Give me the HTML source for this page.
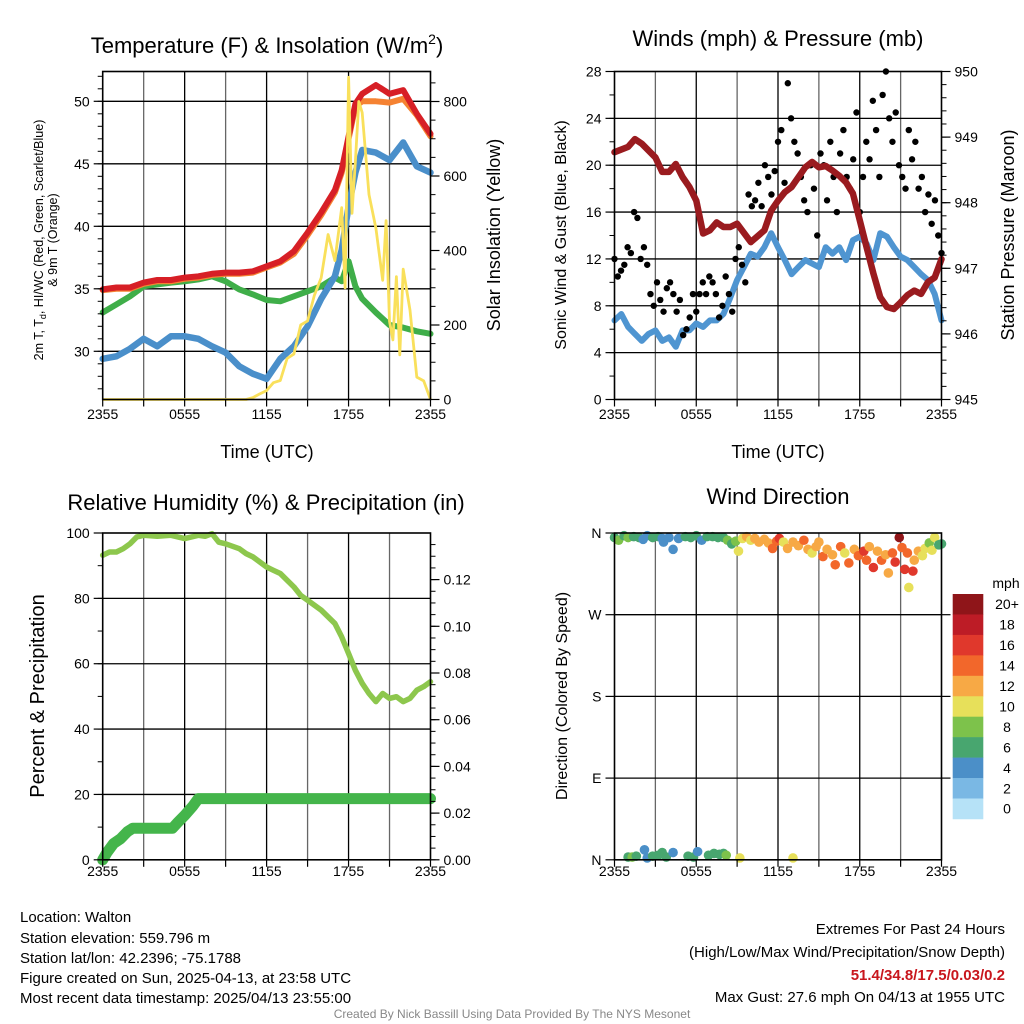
<!DOCTYPE html>
<html><head><meta charset="utf-8"><style>
html,body{margin:0;padding:0;background:#fff;}
svg{display:block;font-family:"Liberation Sans",Arial,sans-serif;}
</style></head><body>
<svg id="svg" width="1024" height="1024" viewBox="0 0 1024 1024" xmlns="http://www.w3.org/2000/svg">
<rect width="1024" height="1024" fill="#fff"/>
<text x="267" y="53" font-size="22" text-anchor="middle">Temperature (F) &amp; Insolation (W/m<tspan font-size="14" dy="-9">2</tspan><tspan dy="9">)</tspan></text>
<text x="778" y="46" font-size="22" text-anchor="middle">Winds (mph) &amp; Pressure (mb)</text>
<text x="266" y="510" font-size="22" text-anchor="middle">Relative Humidity (%) &amp; Precipitation (in)</text>
<text x="778" y="504" font-size="22" text-anchor="middle">Wind Direction</text>

<text x="267" y="458" font-size="18" text-anchor="middle">Time (UTC)</text>
<text x="778" y="458" font-size="18" text-anchor="middle">Time (UTC)</text>

<g font-size="12.5" text-anchor="middle">
<text transform="translate(43,240) rotate(-90)">2m T, T<tspan font-size="9" dy="3">d</tspan><tspan dy="-3">, HI/WC (Red, Green, Scarlet/Blue)</tspan></text>
<text transform="translate(57,240) rotate(-90)">&amp; 9m T (Orange)</text>
</g>
<text transform="translate(500,235) rotate(-90)" font-size="18" text-anchor="middle">Solar Insolation (Yellow)</text>
<text transform="translate(566,235) rotate(-90)" font-size="16" text-anchor="middle">Sonic Wind &amp; Gust (Blue, Black)</text>
<text transform="translate(1014,235) rotate(-90)" font-size="18" text-anchor="middle">Station Pressure (Maroon)</text>
<text transform="translate(44,696) rotate(-90)" font-size="20" text-anchor="middle">Percent &amp; Precipitation</text>
<text transform="translate(567,696) rotate(-90)" font-size="16" text-anchor="middle">Direction (Colored By Speed)</text>

<g id="layer"></g>

<g font-size="15">
<text x="20" y="922">Location: Walton</text>
<text x="20" y="943">Station elevation: 559.796 m</text>
<text x="20" y="963">Station lat/lon: 42.2396; -75.1788</text>
<text x="20" y="983">Figure created on Sun, 2025-04-13, at 23:58 UTC</text>
<text x="20" y="1003">Most recent data timestamp: 2025/04/13 23:55:00</text>
</g>
<g font-size="15" text-anchor="end">
<text x="1005" y="934">Extremes For Past 24 Hours</text>
<text x="1005" y="957">(High/Low/Max Wind/Precipitation/Snow Depth)</text>
<text x="1005" y="980" fill="#c8161d" font-weight="bold">51.4/34.8/17.5/0.03/0.2</text>
<text x="1005" y="1002">Max Gust: 27.6 mph On 04/13 at 1955 UTC</text>
</g>
<text x="512" y="1018" font-size="12" fill="#888" text-anchor="middle">Created By Nick Bassill Using Data Provided By The NYS Mesonet</text>
</svg>
<script>
// ---- Data ----
const xTickLabels = ["2355","0555","1155","1755","2355"];
const tempHours = [0,1,2,3,4,5,6,7,8,9,10,11,12,13,14,15,16,17,17.5,18,18.5,19,20,21,22,23,24];
const tempRed = [34.95,35.1,35.1,35.5,35.7,35.7,35.9,36.0,36.2,36.3,36.3,36.4,36.8,37.2,38.0,39.5,41.1,42.9,44.5,47.2,49.8,50.6,51.3,50.6,50.9,49.0,47.4];
const temp9m = [34.9,35.0,35.0,35.4,35.6,35.6,35.8,35.9,36.1,36.2,36.2,36.3,36.7,37.1,37.8,39.3,40.9,42.7,44.3,47.0,49.6,50.0,50.0,49.9,50.2,48.9,47.2];
const dewGreen = [33.1,33.75,34.4,35.2,35.35,35.5,35.6,35.75,36.0,35.6,34.95,34.55,34.1,34.0,34.4,34.8,35.2,35.9,35.6,37.2,35.2,34.2,33.1,32.1,31.9,31.6,31.4];
const hiwcBlue = [29.4,29.6,30.2,31.0,30.4,31.2,31.2,31.0,30.4,29.9,28.8,28.2,27.8,29.4,30.4,32.0,34.2,36.0,38.1,41.6,44.3,46.1,45.9,45.3,46.7,44.8,44.3];
const solarHours = [0,10.5,11,11.5,12,12.5,13,13.5,14,14.5,15,15.5,16,16.5,17,17.5,17.75,18,18.25,18.5,18.75,19,19.5,20,20.5,20.75,21,21.25,21.5,21.75,22,22.5,23,23.5,24];
const solarVals = [0,0,5,15,24,45,51,110,122,200,211,280,327,443,373,515,300,865,500,640,800,770,550,460,320,480,210,160,330,120,350,240,60,50,0];

const windHours = [0,0.5,1,1.5,2,2.5,3,3.5,4,4.5,5,5.5,6,6.5,7,7.5,8,8.5,9,9.5,10,10.5,11,11.5,12,12.5,13,13.5,14,14.5,15,15.5,16,16.5,17,17.5,18,18.5,19,19.5,20,20.5,21,21.5,22,22.5,23,23.5,24];
const windSpeed = [6.75,7.3,6.2,5.6,5.0,5.6,5.9,5.0,5.3,4.5,5.9,5.9,6.5,6.2,6.75,6.75,7.3,8.7,10.2,11.3,12.45,12.2,13.0,14.2,13.0,11.9,10.7,11.3,11.9,11.6,11.3,13.0,12.45,13.0,11.9,13.6,13.9,13.3,11.9,14.2,13.9,13.0,12.2,11.9,11.3,10.7,10.2,9.0,6.75];
const gustVals = [12,10.5,11,11.5, 13,12.5,16,15.5, 12,13,11.5,9, 8,10,8.5,7.5, 9.5,10,9,7.5, 8.5,5.5,6,7, 9,7.5,9,10, 9,10.5,10,9, 7,8,10.5,9, 7.5,12,13,11.5, 10,17.5,16.5,17, 18.5,16.5,20,19, 17.5,19.5,22,23, 18.5,27,24,22, 21,19,17,16, 20,18,14,21, 20,17,22,19, 16,21,23,19, 18,20.5,24.5,16, 19,22,20.5,25.5, 23,19,26,28, 24,22,24.5,20, 19,18,23,20.5, 22,18,19,16, 17.5,15,17,14, 12.5];
const pressHours = [0,1,1.5,2,3,3.5,4,4.5,5,5.5,6,6.5,7,7.5,8,8.5,9,10,11,11.5,12,12.5,13,14,14.5,15,15.5,16,16.5,17,17.5,18,18.5,19,19.5,20,20.5,21,21.5,22,22.5,23,23.5,24];
const pressVals = [948.77,948.85,948.97,948.9,948.69,948.47,948.47,948.59,948.39,948.24,948.03,947.53,947.58,947.70,947.63,947.63,947.68,947.40,947.58,947.88,948.03,948.16,948.24,948.54,948.62,948.54,948.56,948.49,948.41,948.31,948.14,947.73,947.32,946.92,946.56,946.41,946.38,946.48,946.59,946.66,946.61,946.79,946.86,947.14];

const rhHours = [0,0.5,1,1.5,2,2.5,3,4,5,6,7,7.5,8,8.5,9,10,10.5,11,12,12.5,13,14,14.5,15,16,17,17.5,18,18.5,19,19.5,20,20.5,21,21.5,22,22.5,23,23.5,24];
const rhVals = [93.2,94.2,94.2,95.2,96.7,98.8,99.3,99.0,99.3,98.3,99.3,99.0,99.8,97.2,96.7,95.2,93.7,92.7,89.6,88.6,87.6,83.5,80.9,79.4,76.4,72.3,68.2,63.1,58.0,54.0,50.9,48.4,50.9,49.4,49.9,48.4,49.4,51.9,53.0,54.5];
const precipHours = [0,0.3,0.8,1.3,1.8,2.2,5.1,5.5,6,6.6,7,24];
const precipVals = [0,0.003,0.007,0.009,0.012,0.0135,0.0135,0.016,0.019,0.023,0.0262,0.0262];

const dirHours = [0,0.3,0.7,1.0,1.4,1.8,2.1,2.4,2.8,3.2,3.5,3.6,4.0,4.3,4.7,5.2,5.6,6.0,6.4,6.8,7.2,7.6,8.0,8.3,8.6,8.9,9.1,9.4,9.7,10.0,10.3,10.6,11.0,11.3,11.6,11.9,12.1,12.4,12.7,13.1,13.5,13.9,14.2,14.5,14.8,15.0,15.3,15.6,16.0,16.2,16.6,16.9,17.2,17.6,17.9,18.3,18.5,18.7,19.0,19.3,19.6,19.9,20.1,20.4,20.6,20.9,21.1,21.3,21.5,21.6,21.9,22.0,22.3,22.6,22.8,23.1,23.3,23.5,23.8,24.0,
 1.0,1.3,1.6,2.2,2.4,2.8,3.2,3.5,3.8,4.3,5.4,5.8,6.1,6.9,7.3,7.7,8.0,8.2,9.2,13.1];
const dirVals = [355,352,357,355,356,355,353,357,355,356,354,350,355,342,354,356,355,357,352,356,356,355,355,352,348,351,340,354,356,352,354,350,353,349,343,351,354,350,343,350,346,352,342,338,345,350,334,342,336,325,345,338,327,342,335,340,330,345,322,340,330,336,316,338,328,355,344,320,338,300,318,330,340,335,343,349,341,355,347,348,
 3,3,4,11,2,4,5,8,3,8,4,3,9,5,7,6,7,5,2,2];
const dirSpeeds = [7,8,7,8,6,7,5,5,6,6,5,4,5,4,4,6,7,6,4,6,6,6,7,8,7,8,10,11,12,10,12,12,12,13,14,15,17,10,12,13,12,15,12,10,12,13,14,12,13,14,14,11,14,13,14,16,15,12,16,12,15,12,13,14,16,20,15,16,14,11,16,13,12,10,10,9,10,10,7,6,
 7,8,6,4,4,6,6,6,6,4,6,6,4,6,6,6,6,8,10,10];
const speedBins = ["0","2","4","6","8","10","12","14","16","18","20+"];
const speedColors = ["#b6e2f7","#7ab8e4","#4b8fc8","#48a66f","#7dc24b","#e7e05a","#f7a945","#f2672b","#e0382c","#bd1c26","#8f1519"];

// ---- Helpers ----
const NS="http://www.w3.org/2000/svg";
const layer=document.getElementById('layer');
function mk(tag,attrs,parent){const e=document.createElementNS(NS,tag);for(const k in attrs)e.setAttribute(k,attrs[k]);(parent||layer).appendChild(e);return e;}
function poly(xs,ys,fx,fy){return xs.map((h,i)=>fx(h).toFixed(1)+','+fy(ys[i]).toFixed(1)).join(' ');}

const P1={l:102.7,r:430.5,t:71.5,b:399.5};
const P2={l:614.5,r:941.5,t:71.5,b:399.5};
const P3={l:102.7,r:430.5,t:533,b:859.8};
const P4={l:614.5,r:941.5,t:533,b:859.8};
const xs1=h=>P1.l+h*(P1.r-P1.l)/24;
const xs2=h=>P2.l+h*(P2.r-P2.l)/24;
const yT=t=>101.3+(50-t)*12.5;
const yI=v=>399.5-v*74.5/200;
const yW=w=>399.5-w*(399.5-71.5)/28;
const yP=p=>399.5-(p-945)*(399.5-71.5)/5;
const yRH=r=>859.8-r*(859.8-533)/100;
const yPr=p=>859.8-p/0.02*46.7;
const yD=d=>859.8-d/360*(859.8-533);

function grid(P,fx,hy,name){
  const g=mk('g',{});
  
  
  for(let h=3;h<24;h+=3){const x=fx(h);mk('line',{x1:x,x2:x,y1:P.t,y2:P.b,stroke:(h%6==0)?'#000':'#666','stroke-width':1.3},g);}
  hy.forEach(y=>mk('line',{x1:P.l,x2:P.r,y1:y,y2:y,stroke:'#000','stroke-width':1.3},g));
}
function frame(P,fx,ylab,name){
  const g=mk('g',{});
  
  
  mk('rect',{x:P.l,y:P.t,width:P.r-P.l,height:P.b-P.t,fill:'none',stroke:'#000','stroke-width':1.6},g);
  for(let h=0;h<=24;h+=3){const x=fx(h);mk('line',{x1:x,x2:x,y1:P.b,y2:P.b+7,stroke:'#000','stroke-width':1.2},g);}
  xTickLabels.forEach((s,i)=>{const t=mk('text',{x:fx(i*6),y:ylab,'font-size':14,'text-anchor':'middle'},g);t.textContent=s;});
}
function yAxis(P,side,vals,fy,labels,minor,name){
  const g=mk('g',{});
  
  
  const x0=side=='l'?P.l:P.r, d=side=='l'?-1:1;
  minor.forEach(v=>{const y=fy(v);if(y>=P.t-0.5&&y<=P.b+0.5)mk('line',{x1:x0,x2:x0+d*5,y1:y,y2:y,stroke:'#000','stroke-width':1},g);});
  vals.forEach((v,i)=>{const y=fy(v);mk('line',{x1:x0,x2:x0+d*9,y1:y,y2:y,stroke:'#000','stroke-width':1.2},g);
    const t=mk('text',{x:x0+d*13,y:y+5,'font-size':14,'text-anchor':side=='l'?'end':'start'},g);t.textContent=labels[i];});
}
function range(a,b,s){const r=[];for(let v=a;v<=b+1e-9;v+=s)r.push(+v.toFixed(4));return r;}

// ---- Panel 1 ----
grid(P1,xs1,[30,35,40,45,50].map(yT),'temp');
{
 const g=mk('g',{});
 
 
 const l1=mk('polyline',{points:poly(tempHours,dewGreen,xs1,yT),fill:'none',stroke:'#3fae49','stroke-width':6,'stroke-linejoin':'round','stroke-linecap':'round'},g);
 
 
 const l2=mk('polyline',{points:poly(tempHours,hiwcBlue,xs1,yT),fill:'none',stroke:'#4a8fca','stroke-width':6.5,'stroke-linejoin':'round','stroke-linecap':'round'},g);
 
 
 const l3=mk('polyline',{points:poly(tempHours,temp9m,xs1,yT),fill:'none',stroke:'#f58232','stroke-width':6,'stroke-linejoin':'round','stroke-linecap':'round'},g);
 
 
 const l4=mk('polyline',{points:poly(tempHours,tempRed,xs1,yT),fill:'none',stroke:'#d71f26','stroke-width':6,'stroke-linejoin':'round','stroke-linecap':'round'},g);
 
 
 const l5=mk('polyline',{points:poly(solarHours,solarVals,xs1,yI),fill:'none',stroke:'#f9e05b','stroke-width':2.8,'stroke-linejoin':'round'},g);
 
 
}
frame(P1,xs1,419,'temp');
yAxis(P1,'l',[30,35,40,45,50],yT,["30","35","40","45","50"],range(27,52,1),'temp-y-axis');
yAxis(P1,'r',[0,200,400,600,800],yI,["0","200","400","600","800"],range(0,850,50),'insolation-y-axis');

// ---- Panel 2 ----
grid(P2,xs2,[4,8,12,16,20,24].map(yW),'wind');
{
 const g=mk('g',{});
 
 
 const lw=mk('polyline',{points:poly(windHours,windSpeed,xs2,yW),fill:'none',stroke:'#4f95d1','stroke-width':6,'stroke-linejoin':'round','stroke-linecap':'round'},g);
 
 
 gustVals.forEach((v,i)=>{const c=mk('circle',{cx:xs2(i*24/(gustVals.length-1)),cy:yW(v),r:3.2,fill:'#000'},g);
  
  });
 const lp=mk('polyline',{points:poly(pressHours,pressVals,xs2,yP),fill:'none',stroke:'#9a1b1f','stroke-width':6.5,'stroke-linejoin':'round','stroke-linecap':'round'},g);
 
 
}
frame(P2,xs2,419,'wind');
yAxis(P2,'l',[0,4,8,12,16,20,24,28],yW,["0","4","8","12","16","20","24","28"],range(0,28,2),'wind-y-axis');
yAxis(P2,'r',[945,946,947,948,949,950],yP,["945","946","947","948","949","950"],range(945,950,0.2),'pressure-y-axis');

// ---- Panel 3 ----
grid(P3,xs1,[20,40,60,80].map(yRH),'rh');
{
 const g=mk('g',{});
 
 
 const lr=mk('polyline',{points:poly(rhHours,rhVals,xs1,yRH),fill:'none',stroke:'#8dc74d','stroke-width':5.5,'stroke-linejoin':'round','stroke-linecap':'round'},g);
 
 
 const lp=mk('polyline',{points:poly(precipHours,precipVals,xs1,yPr),fill:'none',stroke:'#44b54b','stroke-width':11,'stroke-linejoin':'round','stroke-linecap':'round'},g);
 
 
}
frame(P3,xs1,876,'rh');
yAxis(P3,'l',[0,20,40,60,80,100],yRH,["0","20","40","60","80","100"],range(0,100,10),'rh-y-axis');
yAxis(P3,'r',[0,0.02,0.04,0.06,0.08,0.1,0.12],yPr,["0.00","0.02","0.04","0.06","0.08","0.10","0.12"],range(0,0.135,0.005),'precip-y-axis');

// ---- Panel 4 ----
grid(P4,xs2,[90,180,270].map(yD),'dir');
{
 const g=mk('g',{});
 
 
 dirVals.forEach((d,i)=>{const s=dirSpeeds[i];const bi=Math.min(10,Math.floor(s/2));
  const c=mk('circle',{cx:xs2(dirHours[i]),cy:yD(d),r:4.8,fill:speedColors[bi]},g);
  
  });
}
frame(P4,xs2,876,'dir');
{
 const g=mk('g',{});
 
 
 [[360,'N'],[270,'W'],[180,'S'],[90,'E'],[0,'N']].forEach(([d,l])=>{const y=yD(d);
  mk('line',{x1:P4.l,x2:P4.l-9,y1:y,y2:y,stroke:'#000','stroke-width':1.2},g);
  const t=mk('text',{x:P4.l-13,y:y+5,'font-size':14,'text-anchor':'end'},g);t.textContent=l;});
 [270,180,90].forEach(d=>{const y=yD(d);mk('line',{x1:P4.r,x2:P4.r+9,y1:y,y2:y,stroke:'#000','stroke-width':1.2},g);});
}
{
 const g=mk('g',{});
 
 
 const t0=mk('text',{x:1006,y:588,'font-size':14,'text-anchor':'middle'},g);t0.textContent='mph';
 const top=594, bh=20.45;
 for(let i=10;i>=0;i--){const y=top+(10-i)*bh;
  const r=mk('rect',{x:952.7,y:y,width:30.6,height:bh+0.3,fill:speedColors[i]},g);
  
  
  const t=mk('text',{x:1007,y:y+bh/2+5,'font-size':14,'text-anchor':'middle'},g);t.textContent=speedBins[i];}
}
</script>
</body></html>
